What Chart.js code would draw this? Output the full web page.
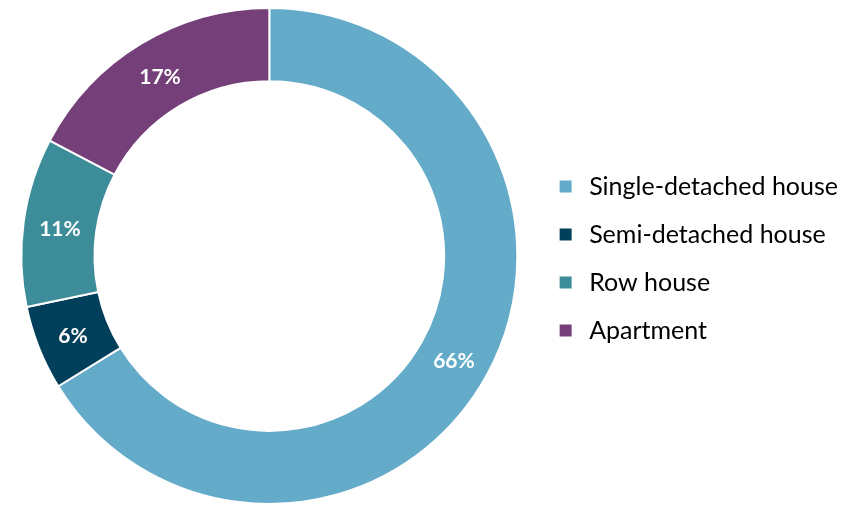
<!DOCTYPE html>
<html>
<head>
<meta charset="utf-8">
<script src="https://cdn.jsdelivr.net/npm/chart.js@4"></script>
<style>
    body { margin: 0; background: #fff; }
</style>
</head>
<body>
<canvas id="dwellingChart" width="856" height="506"></canvas>
<script>
const categories = ['Single-detached house', 'Semi-detached house', 'Row house', 'Apartment'];
const shares = [66.2, 5.5, 11.0, 17.3];
const sliceColors = ['#63abc9', '#023f5b', '#3d8c99', '#75407a'];

// writes the rounded percentage in the middle of each slice
const sliceLabels = {
    id: 'sliceLabels',
    afterDatasetsDraw(chart) {
        const ctx = chart.ctx;
        const meta = chart.getDatasetMeta(0);
        ctx.save();
        ctx.fillStyle = '#ffffff';
        ctx.font = 'bold 21px Lato';
        ctx.textAlign = 'center';
        ctx.textBaseline = 'middle';
        meta.data.forEach((arc, i) => {
            const pos = arc.tooltipPosition();
            ctx.fillText(Math.round(shares[i]) + '%', pos.x, pos.y + 2);
        });
        ctx.restore();
    }
};

const chart = new Chart(
    document.getElementById('dwellingChart'),
    {
        type: 'doughnut',
        data: {
            labels: categories,
            datasets: [{
                label: 'Dwelling type',
                data: shares,
                backgroundColor: sliceColors,
                borderColor: '#ffffff',
                borderWidth: 2
            }]
        },
        options: {
            responsive: false,
            animation: false,
            devicePixelRatio: 1,
            cutout: '70.5%',
            layout: {
                padding: { top: 7, bottom: 1, left: 7, right: 8 }
            },
            plugins: {
                tooltip: { enabled: false },
                legend: {
                    position: 'right',
                    // empty title only nudges the items down a little
                    title: { display: true, text: '', padding: 2, font: { size: 1, lineHeight: 1 } },
                    labels: {
                        boxWidth: 22,
                        boxHeight: 22,
                        padding: 23,
                        color: '#000000',
                        font: { family: 'Lato', size: 25 },
                        // a thick white stroke trims the square down to the small swatch
                        generateLabels: (c) => Chart.overrides.doughnut.plugins.legend.labels.generateLabels(c)
                            .map((item) => ({ ...item, strokeStyle: '#ffffff', lineWidth: 10 }))
                    },
                    onClick: (e) => e.stopPropagation()
                }
            }
        },
        plugins: [sliceLabels]
    }
);
</script>
</body>
</html>
